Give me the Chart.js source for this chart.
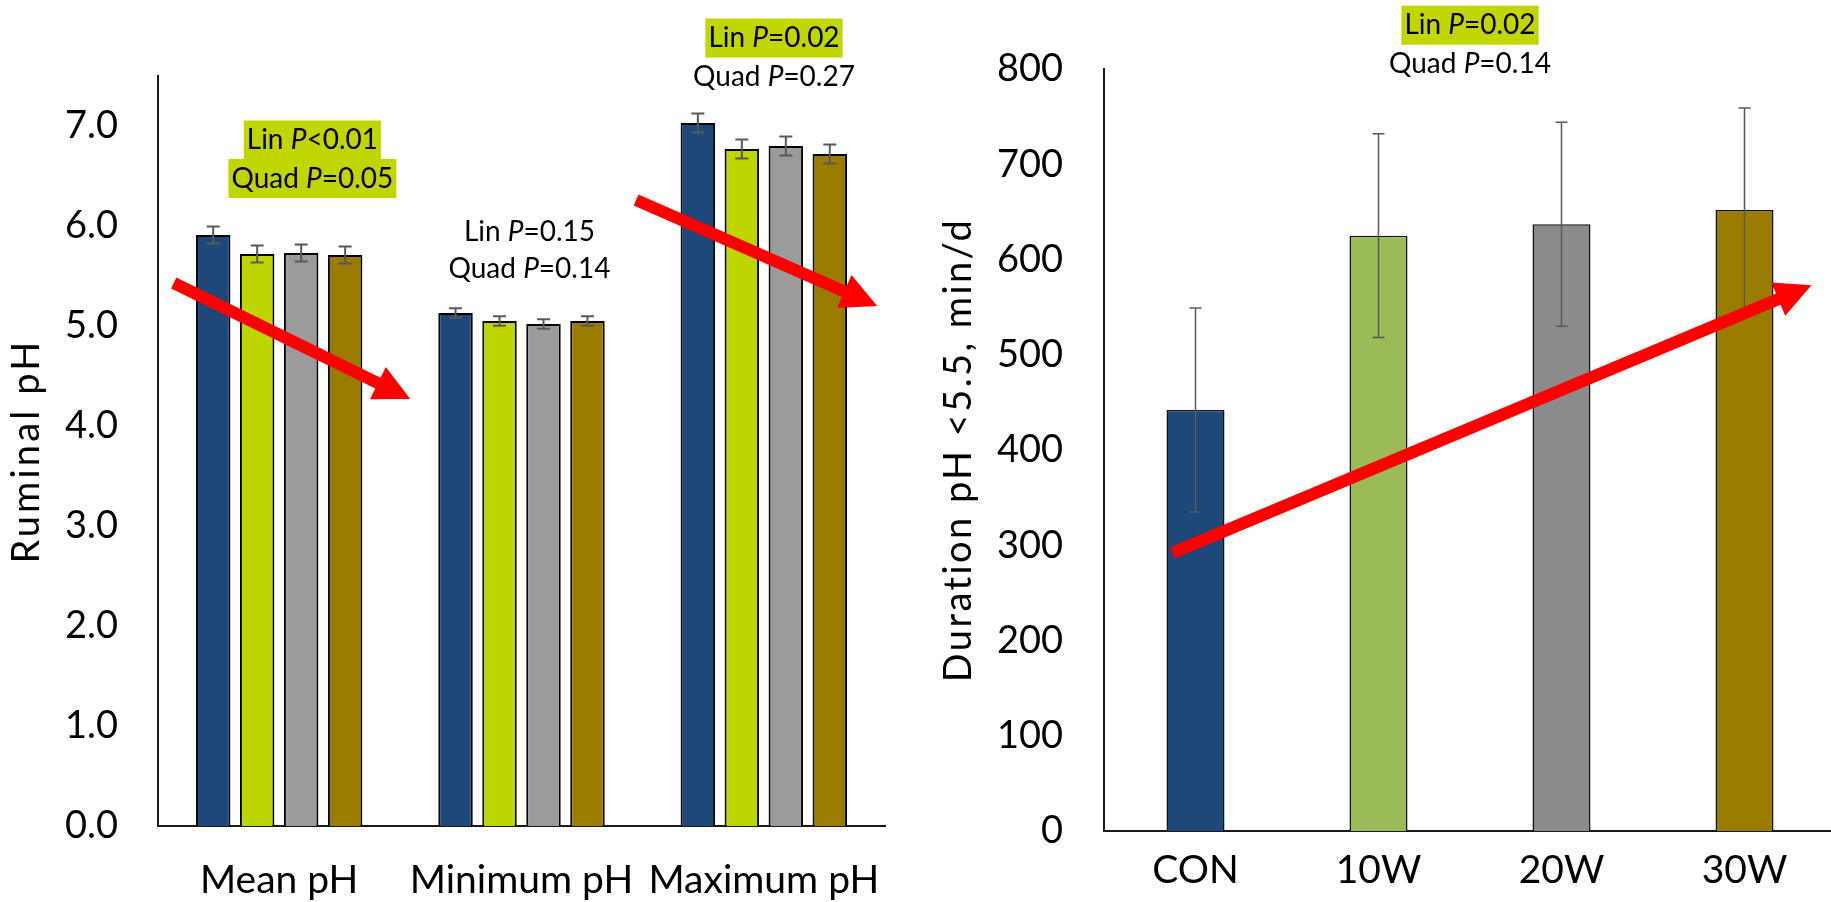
<!DOCTYPE html>
<html lang="en">
<head>
<meta charset="UTF-8">
<title>Ruminal pH</title>
<script src="https://cdn.jsdelivr.net/npm/chart.js"></script>
<style>
    body { margin: 0; background: #fff; overflow: hidden; width: 1831px; height: 902px; position: relative; }
    #phChart { position: absolute; left: 0; top: 0; }
    #durChart { position: absolute; left: 920px; top: 0; }
</style>
</head>
<body>
<canvas id="phChart" width="920" height="902"></canvas>
<canvas id="durChart" width="916" height="902"></canvas>
<script>
    // valores
    var phCategorias = ['Mean pH', 'Minimum pH', 'Maximum pH'];
    var tratamentos = ['CON', '10W', '20W', '30W'];
    var phCON = [5.91, 5.13, 7.03];
    var ph10W = [5.72, 5.05, 6.77];
    var ph20W = [5.73, 5.02, 6.80];
    var ph30W = [5.71, 5.05, 6.72];
    var phErro = [0.086, 0.047, 0.095];

    var duracao = [442, 625, 637, 652];
    var duracaoErro = [107, 107, 107, 107];

    // notas: [posicao na categoria, valor, texto antes do P, texto depois do P, destaque]
    var phNotas = [
        [0.137, 6.86, 'Lin ', '<0.01', true],
        [0.137, 6.475, 'Quad ', '=0.05', true],
        [1.033, 5.94, 'Lin ', '=0.15', false],
        [1.033, 5.57, 'Quad ', '=0.14', false],
        [2.042, 7.88, 'Lin ', '=0.02', true],
        [2.042, 7.49, 'Quad ', '=0.27', false]
    ];
    var durNotas = [
        [1.5, 846, 'Lin ', '=0.02', true],
        [1.5, 805, 'Quad ', '=0.14', false]
    ];

    // setas de tendencia: [x inicio, y inicio, x fim, y fim]
    var phSetas = [
        [-0.435, 5.43, 0.541, 4.27],
        [1.473, 6.26, 2.468, 5.20]
    ];
    var durSetas = [
        [-0.126, 292, 3.366, 573]
    ];

    var fonte = 'Lato, "Open Sans", sans-serif';

    // espacamento entre letras para o titulo do eixo ter o comprimento do original
    function espacoTitulo(texto, tamanho, alvo) {
        var ctx = document.createElement('canvas').getContext('2d');
        ctx.font = tamanho + 'px ' + fonte;
        return (alvo - ctx.measureText(texto).width) / texto.length;
    }

    function desenharNota(ctx, cx, cy, antes, depois, destaque) {
        ctx.save();
        ctx.font = '28px ' + fonte;
        var w1 = ctx.measureText(antes).width;
        var w3 = ctx.measureText(depois).width;
        ctx.font = 'italic 28px ' + fonte;
        var w2 = ctx.measureText('P').width;
        var w = w1 + w2 + w3;
        var x0 = cx - w / 2;
        if (destaque) {
            ctx.fillStyle = '#BFD600';
            ctx.fillRect(x0 - 3, cy - 19.5, w + 6, 39);
        }
        ctx.fillStyle = '#000';
        ctx.textBaseline = 'middle';
        ctx.textAlign = 'left';
        ctx.font = '28px ' + fonte;
        ctx.fillText(antes, x0, cy);
        ctx.font = 'italic 28px ' + fonte;
        ctx.fillText('P', x0 + w1, cy);
        ctx.font = '28px ' + fonte;
        ctx.fillText(depois, x0 + w1 + w2, cy);
        ctx.restore();
    }

    function desenharSeta(ctx, x1, y1, x2, y2) {
        var ang = Math.atan2(y2 - y1, x2 - x1);
        var comp = Math.hypot(x2 - x1, y2 - y1);
        var haste = 12, cabeca = 36, largura = 36;
        ctx.save();
        ctx.translate(x1, y1);
        ctx.rotate(ang);
        ctx.fillStyle = '#FF0000';
        ctx.beginPath();
        ctx.moveTo(0, -haste / 2);
        ctx.lineTo(comp - cabeca, -haste / 2);
        ctx.lineTo(comp - cabeca, -largura / 2);
        ctx.lineTo(comp, 0);
        ctx.lineTo(comp - cabeca, largura / 2);
        ctx.lineTo(comp - cabeca, haste / 2);
        ctx.lineTo(0, haste / 2);
        ctx.closePath();
        ctx.fill();
        ctx.restore();
    }

    // barras de erro, setas e notas
    var extras = {
        id: 'extras',
        beforeDraw: function (chart, args, opts) {
            // so o titulo do eixo e desenhado antes das barras (os ticks tem z: 1)
            chart.ctx.letterSpacing = opts.espaco + 'px';
        },
        beforeDatasetsDraw: function (chart) {
            chart.ctx.letterSpacing = '0px';
        },
        afterDatasetsDraw: function (chart, args, opts) {
            var ctx = chart.ctx;
            var x = chart.scales.x, y = chart.scales.y;
            ctx.save();
            ctx.strokeStyle = '#595959';
            ctx.lineWidth = opts.lineWidth;
            chart.data.datasets.forEach(function (ds, d) {
                var meta = chart.getDatasetMeta(d);
                meta.data.forEach(function (bar, i) {
                    var e = opts.erro[i];
                    var v = ds.data[i];
                    var yt = y.getPixelForValue(v + e);
                    var yb = y.getPixelForValue(v - e);
                    ctx.beginPath();
                    ctx.moveTo(bar.x, yt); ctx.lineTo(bar.x, yb);
                    ctx.moveTo(bar.x - opts.cap, yt); ctx.lineTo(bar.x + opts.cap, yt);
                    ctx.moveTo(bar.x - opts.cap, yb); ctx.lineTo(bar.x + opts.cap, yb);
                    ctx.stroke();
                });
            });
            ctx.restore();
            opts.setas.forEach(function (s) {
                desenharSeta(ctx, x.getPixelForValue(s[0]), y.getPixelForValue(s[1]),
                    x.getPixelForValue(s[2]), y.getPixelForValue(s[3]));
            });
            opts.notas.forEach(function (n) {
                desenharNota(ctx, x.getPixelForValue(n[0]), y.getPixelForValue(n[1]), n[2], n[3], n[4]);
            });
        }
    };

    var fonteTick = { family: fonte, size: 38 };
    var fonteCategoria = { family: fonte, size: 39 };

    var phTitulo = 'Ruminal pH';
    var durTitulo = 'Duration pH <5.5, min/d';

    var phGrafico = new Chart(document.getElementById('phChart').getContext('2d'), {
        type: 'bar',
        data: {
            labels: phCategorias,
            datasets: [
                { label: tratamentos[0], data: phCON, backgroundColor: '#1F487A' },
                { label: tratamentos[1], data: ph10W, backgroundColor: '#BED600' },
                { label: tratamentos[2], data: ph20W, backgroundColor: '#9B9B9B' },
                { label: tratamentos[3], data: ph30W, backgroundColor: '#9A7C00' }
            ]
        },
        options: {
            responsive: false,
            animation: false,
            layout: { padding: { top: 76, right: 35, left: 0, bottom: 0 } },
            datasets: {
                bar: { borderColor: '#000', borderWidth: 2, categoryPercentage: 0.726, barPercentage: 0.784 }
            },
            plugins: {
                legend: { display: false },
                tooltip: { enabled: false },
                extras: {
                    erro: phErro, cap: 6.5, lineWidth: 2, setas: phSetas, notas: phNotas,
                    espaco: espacoTitulo(phTitulo, 38, 225)
                }
            },
            scales: {
                x: {
                    grid: { display: false, drawTicks: false },
                    border: { display: true, color: '#1a1a1a', width: 2 },
                    ticks: { z: 1, color: '#000', font: fonteCategoria, padding: 31, autoSkip: false, maxRotation: 0 },
                    afterFit: function (s) { s.height = 76; }
                },
                y: {
                    min: 0,
                    max: 7.5,
                    grid: { display: false, drawTicks: false },
                    border: { display: true, color: '#1a1a1a', width: 2 },
                    ticks: {
                        z: 1, stepSize: 1, includeBounds: false, color: '#000', font: fonteTick, padding: 40,
                        callback: function (v) { return v.toFixed(1); }
                    },
                    title: { display: true, text: phTitulo, color: '#000', font: { family: fonte, size: 38 }, padding: { top: 4, bottom: 0 } },
                    afterFit: function (s) { s.width = 158; }
                }
            }
        },
        plugins: [extras]
    });

    var durGrafico = new Chart(document.getElementById('durChart').getContext('2d'), {
        type: 'bar',
        data: {
            labels: tratamentos,
            datasets: [{
                label: 'Duration',
                data: duracao,
                backgroundColor: ['#1F487A', '#9BBB59', '#8B8B8B', '#9A7C00'],
                borderColor: '#111',
                borderWidth: 1.5,
                categoryPercentage: 1,
                barPercentage: 0.317
            }]
        },
        options: {
            responsive: false,
            animation: false,
            layout: { padding: { top: 69, right: 0, left: 0, bottom: 0 } },
            plugins: {
                legend: { display: false },
                tooltip: { enabled: false },
                extras: {
                    erro: duracaoErro, cap: 6, lineWidth: 1.5, setas: durSetas, notas: durNotas,
                    espaco: espacoTitulo(durTitulo, 38, 465)
                }
            },
            scales: {
                x: {
                    grid: { display: false, drawTicks: false },
                    border: { display: true, color: '#1a1a1a', width: 2 },
                    ticks: { z: 1, color: '#000', font: fonteCategoria, padding: 16, autoSkip: false, maxRotation: 0 },
                    afterFit: function (s) { s.height = 71; }
                },
                y: {
                    min: 0,
                    max: 800,
                    grid: { display: false, drawTicks: false },
                    border: { display: true, color: '#1a1a1a', width: 2 },
                    ticks: { z: 1, stepSize: 100, color: '#000', font: fonteTick, padding: 41 },
                    title: { display: true, text: durTitulo, color: '#000', font: { family: fonte, size: 38 }, padding: { top: 16, bottom: 0 } },
                    afterFit: function (s) { s.width = 184; }
                }
            }
        },
        plugins: [extras]
    });
</script>
</body>
</html>
